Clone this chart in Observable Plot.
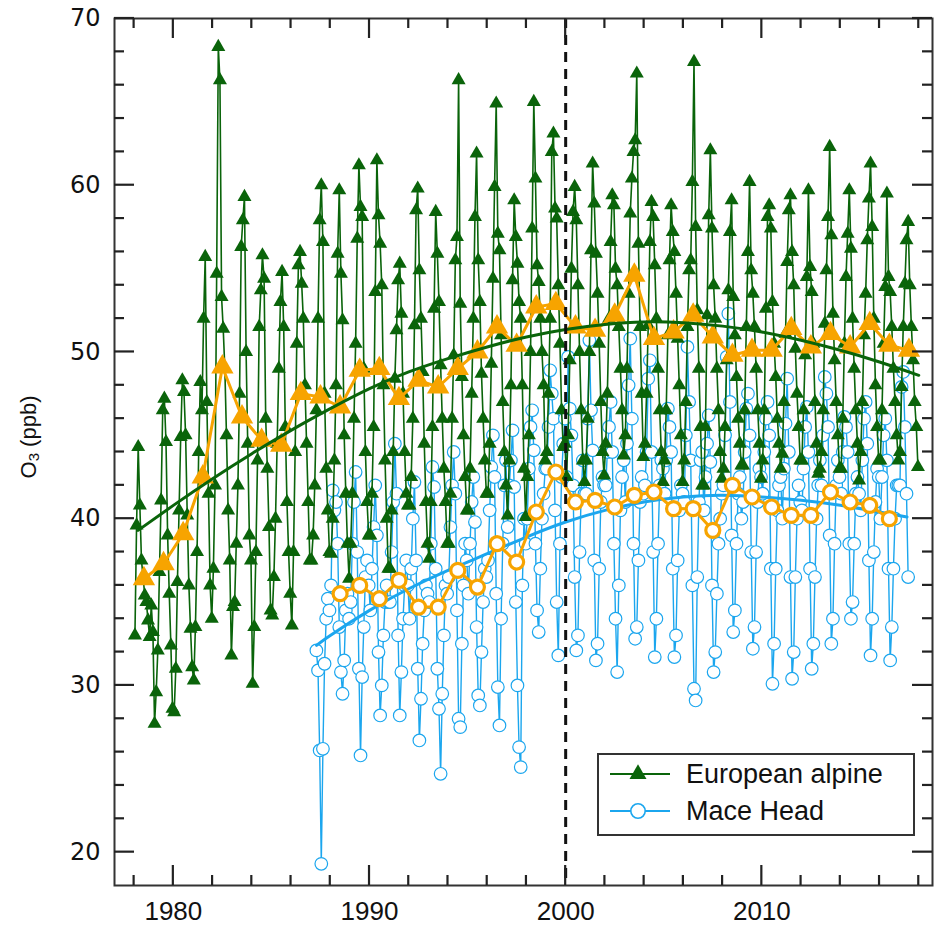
<!DOCTYPE html>
<html><head><meta charset="utf-8">
<script src="https://cdn.jsdelivr.net/npm/d3@7"></script>
<script src="https://cdn.jsdelivr.net/npm/@observablehq/plot@0.6"></script>
<style>body{margin:0;background:#fff}</style>
</head><body><div id="chart"></div>
<script>
// ---------- data ----------
const alpineYears = [1978,1979,1980,1981,1982,1983,1984,1985,1986,1987,1988,1989,1990,1991,1992,1993,1994,1995,1996,1997,1998,1999,2000,2001,2002,2003,2004,2005,2006,2007,2008,2009,2010,2011,2012,2013,2014,2015,2016,2017];
// monthly means, Jan..Dec of each year (ppb)
const alpineMonthly = [
 [33.0,39.6,44.3,40.8,37.5,36.5,35.4,35.0,33.9,32.9,34.8,33.2],
 [27.7,29.6,32.1,36.8,41.1,46.5,47.2,44.6,39.0,35.5,32.4,28.6],
 [28.4,31.0,36.2,40.5,44.9,48.3,47.6,45.0,40.2,36.0,33.4,31.1],
 [30.3,33.5,38.0,44.0,48.2,46.5,52.0,55.7,47.0,41.5,36.0,34.0],
 [37.0,42.0,54.7,68.3,66.3,53.3,51.4,49.0,45.0,40.5,37.5,31.8],
 [34.7,35.0,38.5,42.0,47.5,56.3,57.9,59.3,50.0,44.5,39.0,37.5],
 [30.1,33.5,38.0,43.5,51.5,53.7,55.8,54.4,46.0,43.0,39.5,34.5],
 [34.2,36.5,40.0,44.5,49.0,53.0,54.8,51.5,45.5,41.0,38.0,35.5],
 [33.6,38.0,44.0,50.5,55.2,56.0,54.1,52.0,48.0,44.5,41.0,37.5],
 [37.5,39.0,42.0,46.5,52.0,57.9,60.0,56.6,47.5,43.0,40.5,38.0],
 [37.9,40.0,43.5,48.0,55.9,59.7,54.7,51.9,45.0,41.5,38.5,36.4],
 [38.5,41.5,46.0,50.5,56.8,61.2,58.7,58.1,49.0,44.0,41.0,39.0],
 [39.0,41.5,45.5,53.6,61.5,58.2,56.5,54.0,48.0,43.5,40.0,37.0],
 [37.0,40.5,44.0,48.4,51.3,54.3,55.3,52.3,47.5,44.0,41.5,40.8],
 [40.8,42.5,46.0,51.6,58.5,59.8,54.9,52.0,48.8,44.5,41.0,38.5],
 [37.6,41.0,45.5,52.6,58.4,55.9,53.0,49.2,46.0,43.0,41.0,38.5],
 [38.5,41.5,46.0,49.8,55.5,56.9,66.3,52.9,48.5,45.0,42.5,40.5],
 [40.5,43.0,47.5,52.0,58.1,61.9,55.5,53.0,48.7,46.0,43.5,41.5],
 [41.5,44.5,49.3,54.4,59.9,64.9,57.1,56.1,51.0,47.0,44.0,42.0],
 [40.2,43.5,48.0,54.3,59.1,56.9,55.3,53.0,52.0,48.0,43.0,40.1],
 [42.5,45.0,50.0,57.4,65.0,60.4,55.2,54.2,52.0,50.0,48.0,43.5],
 [44.0,47.5,52.0,62.0,63.1,58.6,58.0,54.0,50.5,46.5,44.3,44.5],
 [42.5,45.0,49.5,55.0,58.4,59.9,57.9,54.0,50.0,46.5,43.5,42.2],
 [43.5,46.0,50.0,56.1,61.3,58.9,55.9,53.5,50.5,47.0,44.0,42.6],
 [44.5,47.5,52.0,56.6,59.4,58.8,55.0,54.0,51.5,49.0,46.5,43.8],
 [45.0,49.0,53.5,58.3,60.4,62.0,62.7,66.7,56.5,51.5,47.5,43.7],
 [44.5,47.5,51.6,56.6,59.0,58.1,55.2,52.0,49.0,46.5,44.0,42.2],
 [43.5,46.5,51.0,55.5,58.8,57.2,56.0,53.5,50.8,48.0,45.0,42.2],
 [43.5,47.0,51.5,54.9,55.5,60.2,67.4,57.5,52.5,49.0,45.5,42.0],
 [42.0,45.5,52.2,58.2,62.1,57.4,54.0,52.0,49.0,46.5,44.0,42.4],
 [43.0,45.5,49.5,53.7,57.2,59.1,53.3,51.0,48.5,46.0,44.5,43.2],
 [43.2,46.5,51.5,56.0,60.2,54.9,53.5,51.5,49.0,46.5,44.5,42.4],
 [43.5,46.5,52.6,58.1,58.8,57.4,53.0,50.5,48.5,46.0,44.5,43.0],
 [43.9,47.0,51.1,55.4,58.5,59.4,56.0,54.0,50.2,47.5,45.5,43.5],
 [43.5,46.5,49.8,54.5,59.7,55.1,53.6,50.5,47.0,44.5,42.7,43.0],
 [44.0,46.5,51.7,54.9,58.1,62.3,57.0,52.3,49.5,47.0,45.0,43.0],
 [43.0,46.0,50.5,54.5,57.1,59.7,56.2,52.0,49.0,46.5,44.5,42.3],
 [44.0,47.0,51.0,53.5,56.7,59.2,61.3,57.5,52.0,48.0,45.5,43.5],
 [43.5,46.5,50.5,53.9,59.5,54.5,53.6,51.5,49.0,47.0,45.0,43.5],
 [44.0,47.9,51.5,54.1,56.7,57.8,54.0,51.5,49.5,47.0,45.5,43.1]
];
const alpineAnnual = [36.4,37.3,39.1,42.5,49.1,46.1,44.7,44.4,47.5,47.3,46.7,48.9,49.0,47.2,48.3,47.9,49.0,50.0,51.5,50.4,52.7,52.9,51.5,51.3,52.2,54.6,50.8,51.2,52.2,50.9,49.8,50.1,50.1,51.4,50.3,51.1,50.3,51.7,50.4,50.1];

const maceYears = [1987,1988,1989,1990,1991,1992,1993,1994,1995,1996,1997,1998,1999,2000,2001,2002,2003,2004,2005,2006,2007,2008,2009,2010,2011,2012,2013,2014,2015,2016,2017];
const maceMonthly = [
 [null,null,null,32.1,30.9,26.1,19.3,26.2,31.3,34.0,35.2,34.5],
 [36.0,41.7,40.5,41.0,38.5,33.5,30.8,29.5,31.5,34.5,35.5,34.0],
 [35.0,38.5,41.0,42.8,38.0,31.0,25.8,30.5,33.5,36.5,37.5,36.0],
 [34.5,37.0,39.5,42.0,39.0,32.0,28.2,30.0,33.0,35.0,36.0,35.0],
 [35.0,38.0,41.0,44.5,41.5,33.0,28.2,30.8,34.0,36.0,37.5,36.0],
 [34.0,37.0,40.0,42.2,37.5,31.0,26.7,29.2,32.5,34.5,36.0,35.5],
 [35.0,38.5,43.1,41.9,37.0,31.0,28.6,24.7,29.5,33.0,36.0,35.5],
 [36.5,39.5,42.0,44.0,41.5,34.5,28.0,27.5,32.5,36.0,38.5,37.5],
 [35.5,38.5,41.0,42.5,39.8,33.5,29.4,28.8,32.0,35.0,37.0,36.5],
 [37.5,40.5,43.1,45.0,42.5,35.5,29.9,27.6,34.0,38.5,42.0,43.5],
 [39.5,42.0,43.5,45.3,41.9,35.0,30.0,26.3,25.1,36.0,40.0,38.5],
 [40.0,43.0,45.5,46.5,44.1,38.5,34.5,33.2,37.0,40.0,41.5,43.0],
 [43.0,45.5,48.9,47.5,46.0,40.5,35.0,31.8,38.5,42.5,44.5,46.0],
 [42.5,49.7,46.6,45.0,42.0,36.5,32.1,33.0,38.0,41.5,43.5,41.5],
 [41.5,46.0,50.7,46.5,44.1,37.5,31.5,32.5,37.0,41.0,42.5,42.0],
 [42.0,44.0,45.5,47.0,44.0,38.5,34.0,30.8,36.0,40.5,42.5,43.5],
 [41.0,44.5,48.0,50.8,46.0,38.5,32.8,33.5,37.5,41.0,42.5,41.5],
 [42.0,44.0,48.4,49.5,44.0,38.0,31.7,34.0,38.5,42.0,43.5,43.0],
 [41.5,43.5,46.6,45.5,44.0,37.0,31.7,33.0,37.5,40.5,42.0,41.5],
 [41.0,45.0,50.3,47.0,43.5,36.0,29.8,29.1,36.5,41.0,43.5,44.0],
 [40.5,42.5,44.5,46.2,43.4,36.0,30.8,32.0,35.5,38.5,40.0,41.5],
 [42.0,45.0,49.7,52.3,47.0,39.0,33.2,34.5,38.5,41.5,42.5,40.0],
 [41.0,44.0,46.6,47.5,45.0,38.0,32.2,33.5,38.0,41.0,43.0,42.5],
 [41.5,44.0,46.0,47.0,45.0,37.0,30.1,32.5,37.0,40.5,42.0,42.5],
 [40.0,43.0,45.7,48.4,44.0,36.5,30.4,32.0,36.5,40.0,42.0,41.0],
 [40.5,43.0,45.5,46.7,44.0,37.0,31.0,32.5,36.5,40.0,42.0,43.5],
 [42.0,45.0,48.5,47.5,45.5,39.0,32.5,34.0,38.5,42.0,43.5,42.5],
 [41.5,44.0,46.1,45.5,44.0,38.5,34.0,35.0,38.5,41.5,42.5,41.5],
 [40.5,43.5,46.0,47.0,44.5,37.5,31.8,34.0,38.0,41.0,43.0,42.5],
 [40.0,42.5,45.0,46.0,43.5,37.0,31.5,33.5,37.0,40.0,42.0,42.0],
 [42.0,47.9,48.8,45.5,41.5,36.5]
];
const maceAnnualYears = [1988,1989,1990,1991,1992,1993,1994,1995,1996,1997,1998,1999,2000,2001,2002,2003,2004,2005,2006,2007,2008,2009,2010,2011,2012,2013,2014,2015,2016];
const maceAnnual = [35.5,36.0,35.2,36.3,34.7,34.7,36.9,35.9,38.5,37.4,40.4,42.8,41.0,41.1,40.7,41.4,41.6,40.6,40.6,39.3,42.0,41.3,40.7,40.2,40.2,41.6,41.0,40.8,40.0];

// smooth trend curves
const alpineFitYears = [1978.2,1980,1982,1984,1986,1988,1990,1992,1994,1996,1998,2000,2002,2004,2006,2008,2010,2012,2014,2016,2018];
const alpineFit = [39.3,40.8,42.4,43.9,45.3,46.6,47.8,48.8,49.6,50.3,50.9,51.35,51.65,51.8,51.75,51.55,51.2,50.7,50.1,49.4,48.6];
const maceFitYears = [1987.3,1988,1990,1992,1994,1996,1998,2000,2002,2004,2006,2008,2010,2012,2014,2016,2017.4];
const maceFit = [32.4,33.0,34.5,35.8,36.9,37.9,38.9,39.8,40.5,41.0,41.3,41.4,41.3,41.1,40.8,40.4,40.1];

const xMajor = [1980,1990,2000,2010];
const xMinor = [1978,1982,1984,1986,1988,1992,1994,1996,1998,2002,2004,2006,2008,2012,2014,2016,2018];
const yMajor = [20,30,40,50,60,70];
const yMinor = [22,24,26,28,32,34,36,38,42,44,46,48,52,54,56,58,62,64,66,68];
const seriesNames = ["European alpine","Mace Head"];
const yTitle = ["O","3"," (ppb)"];
const refYear = [2000];

// ---------- build tables ----------
const GREEN = "#0a640a", BLUE = "#1ba6ee", ORANGE = "#f7a400", AX = "#333";
const monthly = (years, rows) => rows.flatMap((vals, i) =>
  vals.map((v, m) => ({t: years[i] + (m + 0.5) / 12, v})).filter(d => d.v != null));
const alpine = monthly(alpineYears, alpineMonthly);
const mace = monthly(maceYears, maceMonthly);
const alpineAnn = alpineYears.map((y, i) => ({t: y + 0.5, v: alpineAnnual[i]}));
const maceAnn = maceAnnualYears.map((y, i) => ({t: y + 0.5, v: maceAnnual[i]}));
const alpineTrend = alpineFitYears.map((y, i) => ({t: y, v: alpineFit[i]}));
const maceTrend = maceFitYears.map((y, i) => ({t: y, v: maceFit[i]}));

const plot = Plot.plot({
  width: 938, height: 940,
  marginLeft: 114, marginRight: 6, marginTop: 18, marginBottom: 55,
  x: {domain: [1977, 2018.7]},
  y: {domain: [18, 70]},
  style: {background: "#fff", fontFamily: "Liberation Sans, Arial, sans-serif"},
  marks: [
    Plot.line(mace, {x: "t", y: "v", stroke: BLUE, strokeWidth: 1.4}),
    Plot.dot(mace, {x: "t", y: "v", r: 6.3, stroke: BLUE, strokeWidth: 1.2, fill: "white"}),
    Plot.line(alpine, {x: "t", y: "v", stroke: GREEN, strokeWidth: 1.6}),
    Plot.dot(alpine, {x: "t", y: "v", symbol: "triangle", r: 5.2, fill: GREEN}),
    Plot.line(maceTrend, {x: "t", y: "v", stroke: BLUE, strokeWidth: 3, curve: "natural"}),
    Plot.line(maceAnn, {x: "t", y: "v", stroke: ORANGE, strokeWidth: 3}),
    Plot.dot(maceAnn, {x: "t", y: "v", r: 7, stroke: ORANGE, strokeWidth: 3.2, fill: "white"}),
    Plot.line(alpineAnn, {x: "t", y: "v", stroke: ORANGE, strokeWidth: 3}),
    Plot.dot(alpineAnn, {x: "t", y: "v", symbol: "triangle", r: 8.3, fill: ORANGE}),
    Plot.line(alpineTrend, {x: "t", y: "v", stroke: GREEN, strokeWidth: 3, curve: "natural"}),
    Plot.ruleX(refYear, {stroke: "#111", strokeWidth: 3, strokeDasharray: "10,7"}),
    Plot.frame({stroke: AX, strokeWidth: 2}),
    // tick labels
    Plot.axisX({anchor: "bottom", ticks: xMajor, tickSize: 0, tickPadding: 16, tickFormat: d => String(d),
      fontSize: 26, fill: "#111", label: null}),
    Plot.axisY({anchor: "left", ticks: yMajor, tickSize: 0, tickPadding: 14, tickFormat: d => String(d),
      fontSize: 24, fill: "#111", fontFamily: "DejaVu Sans, sans-serif", label: null})
  ]
});
document.getElementById("chart").appendChild(plot);

// ---------- inward ticks on all four sides, positioned through Plot's scales ----------
const svg = d3.select(plot);
const sx = plot.scale("x"), sy = plot.scale("y");
const xLeft = Math.min(...sx.range), xRight = Math.max(...sx.range);
const yBottom = Math.max(...sy.range), yTop = Math.min(...sy.range);
const tg = svg.append("g").attr("stroke", "#222").attr("stroke-width", 2.2);
const addX = (vals, len) => vals.forEach(v => {
  const px = sx.apply(v);
  tg.append("line").attr("x1", px).attr("x2", px).attr("y1", yBottom).attr("y2", yBottom - len);
  tg.append("line").attr("x1", px).attr("x2", px).attr("y1", yTop).attr("y2", yTop + len);
});
const addY = (vals, len) => vals.forEach(v => {
  const py = sy.apply(v);
  tg.append("line").attr("y1", py).attr("y2", py).attr("x1", xLeft).attr("x2", xLeft + len);
  tg.append("line").attr("y1", py).attr("y2", py).attr("x1", xRight).attr("x2", xRight - len);
});
addX(xMajor, 20); addX(xMinor, 10); addY(yMajor, 20); addY(yMinor, 10);

// ---------- y title and legend ----------
const yt = svg.append("text")
  .attr("transform", "translate(30,437) rotate(-90)")
  .attr("text-anchor", "middle").attr("dominant-baseline", "middle")
  .attr("font-family", "Liberation Sans, Arial, sans-serif").attr("font-size", 22).attr("fill", "#111");
yt.append("tspan").text(yTitle[0]);
yt.append("tspan").attr("font-size", 15).attr("dy", 5).text(yTitle[1]);
yt.append("tspan").attr("dy", -5).text(yTitle[2]);

const lg = svg.append("g");
lg.append("rect").attr("x", 598).attr("y", 754).attr("width", 316).attr("height", 81)
  .attr("fill", "white").attr("stroke", AX).attr("stroke-width", 2);
const rows = [{y: 774, color: GREEN, tri: true}, {y: 811, color: BLUE, tri: false}];
rows.forEach((r, i) => {
  lg.append("line").attr("x1", 610).attr("x2", 670).attr("y1", r.y).attr("y2", r.y)
    .attr("stroke", r.color).attr("stroke-width", 2);
  if (r.tri) {
    lg.append("path").attr("d", d3.symbol(d3.symbolTriangle, 125)()).attr("transform", `translate(638,${r.y})`).attr("fill", r.color);
  } else {
    lg.append("circle").attr("cx", 638).attr("cy", r.y).attr("r", 7.2).attr("fill", "white").attr("stroke", r.color).attr("stroke-width", 1.6);
  }
  lg.append("text").attr("x", 686).attr("y", r.y).attr("dominant-baseline", "central")
    .attr("text-anchor", "start")
    .attr("font-family", "Liberation Sans, Arial, sans-serif").attr("font-size", 27).attr("fill", "#111")
    .text(seriesNames[i]);
});
</script>
</body></html>
